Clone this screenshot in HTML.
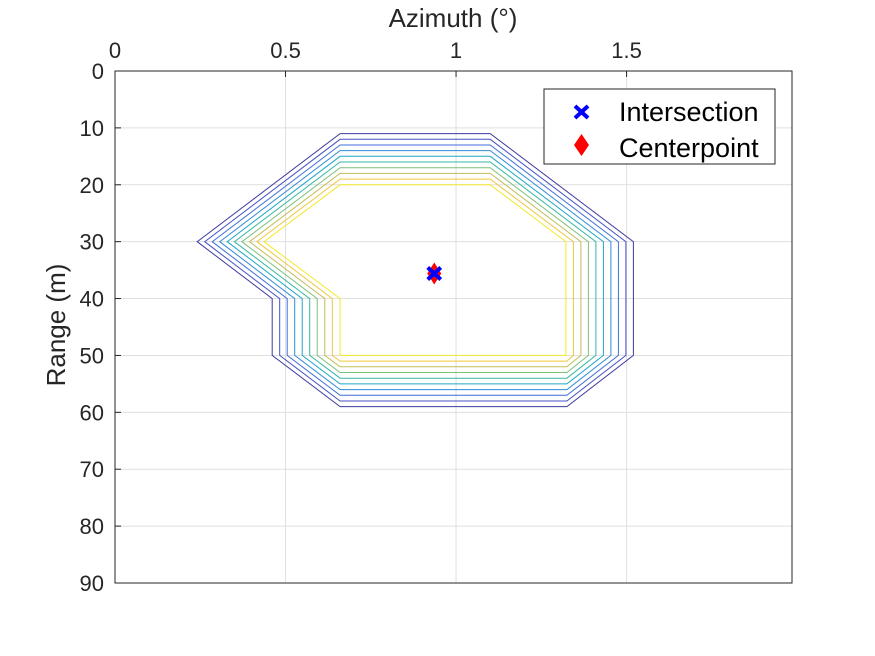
<!DOCTYPE html>
<html><head><meta charset="utf-8"><style>
body{margin:0;background:#fff;}
svg{display:block;font-family:"Liberation Sans",Arial,sans-serif;}
</style></head><body>
<svg id="chart" width="875" height="656" viewBox="0 0 875 656" xmlns="http://www.w3.org/2000/svg">
<rect x="0" y="0" width="875" height="656" fill="#fff"/>
<g id="grid"></g>
<g id="contours"></g>
<g id="markers"></g>
<rect x="115" y="71" width="677" height="512" fill="none" stroke="#262626" stroke-width="1"/>
<g id="ticks"></g>
<text x="453" y="27" font-size="26" fill="#262626" text-anchor="middle">Azimuth (°)</text>
<text transform="translate(65,325) rotate(-90)" font-size="26" fill="#262626" text-anchor="middle">Range (m)</text>
<g>
<rect x="544" y="89" width="231" height="75" fill="#fff" stroke="#262626" stroke-width="1"/>
<g>
<path d="M575,106 L588,118 M588,106 L575,118" stroke="#0000ff" stroke-width="4"/>
<text x="619" y="121" font-size="27" fill="#000">Intersection</text>
</g>
<g>
<path d="M581.5,134 L589,145 L581.5,156 L574,145 Z" fill="#ff0000"/>
<text x="619" y="157" font-size="27" fill="#000">Centerpoint</text>
</g>
</g>
</svg>
<script>
const xTicks=[0,0.5,1,1.5];
const xTickLabels=["0","0.5","1","1.5"];
const yTicks=[0,10,20,30,40,50,60,70,80,90];
const yTickLabels=["0","10","20","30","40","50","60","70","80","90"];
// contour parameters (outer -> inner)
const contourTop=[11,12,13,14,15,16,17,18,19,20];
const contourBottom=[59,58,57,56,55,54,53,52,51,50];
const contourRight=[1.52,1.498,1.476,1.454,1.432,1.41,1.388,1.366,1.344,1.322];
const contourTip=[0.241,0.263,0.285,0.307,0.329,0.35,0.372,0.394,0.416,0.437];
const contourStep=[0.461,0.483,0.505,0.527,0.549,0.571,0.593,0.615,0.637,0.66];
const contourTopLeftX=[0.66,0.66,0.66,0.66,0.66,0.66,0.66,0.66,0.66,0.66];
const contourTopRightX=[1.10,1.10,1.10,1.10,1.10,1.10,1.10,1.10,1.10,1.10];
const contourBotRightX=[1.325,1.325,1.325,1.325,1.325,1.325,1.325,1.325,1.325,1.325];
const contourBotLeftX=[0.66,0.66,0.66,0.66,0.66,0.66,0.66,0.66,0.66,0.66];
const contourMidY=[30,30,30,30,30,30,30,30,30,30];
const contourStepY=[40,40,40,40,40,40,40,40,40,40];
const contourLowY=[50,50,50,50,50,50,50,50,50,50];
const contourColors=["#3e3a9e","#4650c4","#3f6fd8","#2f8bd8","#1ea6c6","#34b8a4","#7cc07a","#c1bd55","#f0c63a","#f5e82a"];
const intersection=[0.936,35.6];
const centerpoint=[0.936,35.6];

const X0=115,X1=792,Y0=71,Y1=583,XMAX=1.985,YMAX=90;
const sx=v=>X0+v/XMAX*(X1-X0);
const sy=v=>Y0+v/YMAX*(Y1-Y0);
const NS="http://www.w3.org/2000/svg";
function mk(tag,attrs,parent){const e=document.createElementNS(NS,tag);for(const k in attrs)e.setAttribute(k,attrs[k]);parent.appendChild(e);return e;}
const grid=document.getElementById('grid'),ticks=document.getElementById('ticks');
xTicks.forEach((t,i)=>{
  if(t>0){const l=mk('line',{x1:sx(t),x2:sx(t),y1:Y0,y2:Y1,stroke:'#dfdfdf','stroke-width':1},grid);
  
  }
  const tk=mk('line',{x1:sx(t),x2:sx(t),y1:Y0,y2:Y0+6,stroke:'#262626'},ticks);
  
  
  const tx=mk('text',{x:sx(t),y:58,'font-size':22,fill:'#262626','text-anchor':'middle'},ticks);
  tx.textContent=xTickLabels[i];
  
  
});
yTicks.forEach((t,i)=>{
  if(t>0&&t<90){const l=mk('line',{x1:X0,x2:X1,y1:sy(t),y2:sy(t),stroke:'#dfdfdf','stroke-width':1},grid);
  
  }
  const tk=mk('line',{x1:X0,x2:X0+6,y1:sy(t),y2:sy(t),stroke:'#262626'},ticks);
  
  
  const tx=mk('text',{x:104,y:sy(t)+8,'font-size':22,fill:'#262626','text-anchor':'end'},ticks);
  tx.textContent=yTickLabels[i];
  
  
});
const cg=document.getElementById('contours');
contourTop.forEach((top,i)=>{
  const pts=[[contourTopLeftX[i],top],[contourTopRightX[i],top],[contourRight[i],contourMidY[i]],[contourRight[i],contourLowY[i]],
    [contourBotRightX[i],contourBottom[i]],[contourBotLeftX[i],contourBottom[i]],[contourStep[i],contourLowY[i]],
    [contourStep[i],contourStepY[i]],[contourTip[i],contourMidY[i]]];
  const p=mk('polygon',{points:pts.map(q=>sx(q[0]).toFixed(1)+','+sy(q[1]).toFixed(1)).join(' '),fill:'none',stroke:contourColors[i],'stroke-width':1},cg);
  
  
});
const mg=document.getElementById('markers');
const cx=sx(centerpoint[0]),cy=sy(centerpoint[1]);
const d=mk('path',{d:`M${cx},${cy-11} L${cx+7},${cy} L${cx},${cy+11} L${cx-7},${cy} Z`,fill:'#ff0000'},mg);


const ix=sx(intersection[0]),iy=sy(intersection[1]);
const xm=mk('path',{d:`M${ix-6.5},${iy-6} L${ix+6.5},${iy+6} M${ix+6.5},${iy-6} L${ix-6.5},${iy+6}`,stroke:'#0000ff','stroke-width':4},mg);


</script>
</body></html>
